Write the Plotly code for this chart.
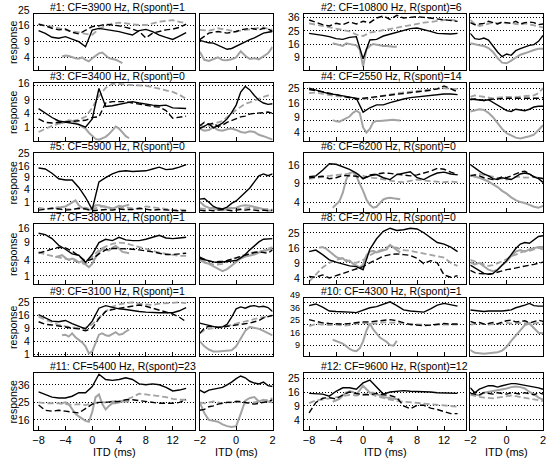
import plotly.graph_objects as go

# y values are on a square-root response axis (tick labels show the squares)
WIDE_X = list(range(-8, 15))
NARROW_X = [-2, -1.75, -1.5, -1.25, -1, -0.75, -0.5, -0.25, 0,
            0.25, 0.5, 0.75, 1, 1.25, 1.5, 1.75, 2]
WIDE_TICKS = [-8, -4, 0, 4, 8, 12]
NARROW_TICKS = [-2, 0, 2]

TITLES = [
    "#1: CF=3900 Hz, R(spont)=1", "#2: CF=10800 Hz, R(spont)=6",
    "#3: CF=3400 Hz, R(spont)=0", "#4: CF=2550 Hz, R(spont)=14",
    "#5: CF=5900 Hz, R(spont)=0", "#6: CF=6200 Hz, R(spont)=0",
    "#7: CF=3800 Hz, R(spont)=1", "#8: CF=2700 Hz, R(spont)=0",
    "#9: CF=3100 Hz, R(spont)=1", "#10: CF=4300 Hz, R(spont)=1",
    "#11: CF=5400 Hz, R(spont)=23", "#12: CF=9600 Hz, R(spont)=12",
]

# ---- panel 1
P1_YRANGE = [1.22, 4.68]
P1_GRID = [4, 3, 2]
P1_TICK_TEXT = ["25", "16", "9", "4"]
P1_TICK_POS = [4.93, 4, 3, 2]
P1_W_BLACK = [3.65, 3.48, 3.24, 3.18, 3.28, 3.11, 2.97, 2.66, 3.69, 3.79, 3.73, 3.65, 3.59, 3.48, 3.38, 3.65, 3.73, 3.59, 3.38, 3.24, 3.11, 3.32, 3.53]
P1_W_DASH = [4.05, 3.95, 3.8, 3.7, 3.75, 3.55, 3.45, 3.7, 3.9, 3.95, 4.05, 4.0, 3.95, 3.85, 3.75, 3.6, 3.2, 3.5, 3.6, 3.7, 3.75, 3.85, 4.05]
P1_W_GRAY_DASH = [4.05, 3.95, 3.9, 3.8, 3.7, 3.6, 3.55, 3.45, 3.4, 3.75, 3.95, 4.1, 4.15, 4.1, 4.05, 4.0, 4.0, 4.1, 4.2, 4.25, 4.3, 4.2, 4.1]
P1_W_GRAY_X0 = -4.5
P1_W_GRAY = [2.05, 2.12, 2.08, 2.0, 1.95, 1.92, 2.0, 1.85, 1.75, 1.95, 2.1, 2.25, 2.3, 2.1, 1.95, 1.9, 1.85, 1.75, 1.65]
P1_N_BLACK = [3.05, 2.97, 2.9, 2.88, 2.75, 2.6, 2.5, 2.55, 2.7, 2.85, 3.0, 3.1, 3.2, 3.35, 3.5, 3.55, 3.6]
P1_N_DASH = [3.1, 3.3, 3.5, 3.55, 3.6, 3.55, 3.5, 3.55, 3.6, 3.7, 3.75, 3.8, 3.75, 3.7, 3.8, 3.75, 3.6]
P1_N_GRAY_DASH = [3.7, 3.68, 3.65, 3.72, 3.8, 3.75, 3.7, 3.65, 3.6, 3.65, 3.7, 3.75, 3.8, 3.82, 3.85, 3.78, 3.7]
P1_N_GRAY = [2.35, 1.85, 1.78, 1.9, 2.0, 1.83, 1.82, 1.88, 2.0, 2.38, 2.1, 1.9, 1.95, 1.88, 2.05, 2.25, 2.65]

# ---- panel 2
P2_YRANGE = [2.05, 6.25]
P2_GRID = [6, 5, 4, 3]
P2_TICK_TEXT = ["36", "25", "16", "9"]
P2_TICK_POS = [6, 5, 4, 3]
P2_W_BLACK = [4.8, 4.75, 4.65, 4.55, 4.4, 4.35, 4.5, 4.55, 2.9, 4.3, 4.35, 4.6, 4.75, 4.9, 5.05, 5.15, 5.2, 5.1, 4.95, 4.8, 4.75, 4.75, 4.8]
P2_W_DASH = [5.8, 5.6, 5.45, 5.35, 5.55, 5.45, 5.65, 5.5, 5.7, 5.6, 5.95, 6.1, 5.85, 6.15, 5.95, 6.0, 6.05, 6.0, 5.95, 5.9, 5.85, 5.75, 5.7]
P2_W_GRAY_DASH = [5.55, 5.45, 5.35, 5.3, 5.2, 5.05, 4.95, 4.7, 4.6, 4.85, 4.95, 5.0, 5.1, 5.25, 5.35, 5.45, 5.55, 5.6, 5.65, 5.75, 5.8, 5.8, 5.75]
P2_W_GRAY_X0 = -4.5
P2_W_GRAY = [4.05, 4.0, 3.9, 3.85, 4.05, 4.0, 3.95, 3.9, 3.6, 2.3, 3.6, 3.85, 4.0, 3.95, 3.85, 3.85, 3.85, 3.8, 3.8, 3.8]
P2_N_BLACK = [4.8, 4.4, 4.35, 4.45, 4.3, 3.85, 3.4, 3.05, 3.25, 3.15, 3.5, 3.65, 3.8, 3.9, 3.95, 4.2, 4.65]
P2_N_DASH = [5.6, 5.45, 5.5, 5.55, 5.7, 5.6, 5.5, 5.65, 5.6, 5.55, 5.7, 5.5, 5.6, 5.65, 5.6, 5.45, 5.5]
P2_N_GRAY_DASH = [5.8, 5.5, 5.35, 5.45, 5.55, 5.6, 5.55, 5.6, 5.55, 5.6, 5.5, 5.45, 5.55, 5.5, 5.4, 5.3, 5.25]
P2_N_GRAY = [4.05, 3.95, 3.9, 3.85, 3.7, 3.4, 2.95, 2.6, 2.55, 2.75, 3.0, 3.2, 3.3, 3.45, 3.55, 3.65, 3.65]

# ---- panel 3
P3_YRANGE = [0, 4.2]
P3_GRID = [4, 3, 2, 1]
P3_TICK_TEXT = ["16", "9", "4", "1"]
P3_TICK_POS = [4.2, 3, 2, 1]
P3_W_BLACK = [2.35, 2.0, 1.7, 1.45, 1.35, 1.25, 1.2, 1.0, 1.6, 3.8, 2.5, 2.55, 2.65, 2.75, 2.85, 2.75, 2.65, 2.6, 2.55, 2.6, 2.4, 2.35, 2.35]
P3_W_DASH = [1.6, 1.35, 1.3, 1.35, 1.4, 1.45, 1.45, 1.5, 1.7, 1.75, 2.75, 2.85, 2.85, 2.85, 2.75, 2.65, 2.6, 2.5, 2.45, 2.2, 1.65, 1.7, 1.8]
P3_W_GRAY_DASH = [0.65, 0.9, 1.1, 1.25, 1.35, 1.45, 1.55, 1.75, 2.4, 3.25, 3.85, 4.15, 4.15, 4.1, 4.05, 4.05, 4.0, 3.9, 3.8, 3.7, 3.55, 3.35, 3.05]
P3_W_GRAY_X0 = -5.5
P3_W_GRAY = [1.55, 1.45, 1.3, 1.4, 1.5, 1.45, 1.3, 1.2, 1.05, 0.9, 0.6, 0.35, 0.15, 0.1, 0.2, 0.3, 0.5, 0.8, 1.05, 0.9, 0.6, 0.35, 0.2]
P3_N_BLACK = [0.9, 1.05, 1.25, 0.95, 1.1, 1.3, 1.6, 2.05, 2.6, 3.55, 3.95, 3.7, 3.3, 2.95, 2.75, 2.65, 2.7]
P3_N_DASH = [1.1, 1.35, 1.2, 1.3, 1.05, 1.15, 1.35, 1.5, 1.65, 1.75, 1.8, 1.95, 2.0, 2.0, 2.05, 2.1, 2.0]
P3_N_GRAY_DASH = [1.15, 1.0, 1.1, 1.25, 1.35, 1.45, 1.75, 2.0, 2.25, 2.5, 2.7, 2.8, 2.95, 3.1, 3.2, 3.3, 3.25]
P3_N_GRAY = [0.9, 0.75, 0.8, 1.0, 0.8, 0.75, 0.85, 0.9, 0.8, 0.65, 0.6, 0.7, 0.65, 0.45, 0.35, 0.25, 0.1]

# ---- panel 4
P4_YRANGE = [1.37, 5.35]
P4_GRID = [5, 4.24, 3.5, 2.76, 2]
P4_TICK_TEXT = ["25", "16", "9", "4"]
P4_TICK_POS = [5, 4, 3, 2]
P4_W_BLACK = [5.0, 4.85, 4.7, 4.6, 4.55, 4.45, 4.35, 4.3, 3.35, 3.65, 3.85, 3.85, 4.0, 4.15, 4.25, 4.35, 4.4, 4.45, 4.55, 4.6, 4.6, 4.6, 4.55]
P4_W_DASH = [4.9, 4.85, 4.75, 4.65, 4.55, 4.45, 4.3, 4.25, 4.3, 4.35, 4.45, 4.5, 4.55, 4.6, 4.65, 4.7, 4.75, 4.8, 4.85, 4.95, 5.15, 4.95, 4.75]
P4_W_GRAY_DASH = [4.65, 4.7, 4.6, 4.5, 4.45, 4.4, 4.35, 4.3, 4.25, 4.3, 4.4, 4.5, 4.6, 4.65, 4.7, 4.75, 4.8, 4.85, 4.9, 4.95, 5.0, 4.95, 4.95]
P4_W_GRAY_X0 = -4.5
P4_W_GRAY = [2.8, 2.72, 2.7, 2.8, 2.9, 3.05, 3.3, 3.45, 3.3, 2.3, 1.95, 2.2, 2.65, 2.75, 2.75, 2.78, 2.8, 2.8, 2.82, 2.8, 2.78]
P4_N_BLACK = [4.25, 4.2, 4.2, 4.15, 4.2, 4.0, 3.85, 3.6, 3.45, 3.4, 3.55, 3.5, 3.45, 3.55, 3.7, 3.75, 3.75]
P4_N_DASH = [4.2, 4.25, 4.2, 4.15, 4.22, 4.25, 4.28, 4.3, 4.3, 4.3, 4.3, 4.28, 4.3, 4.32, 4.3, 4.3, 4.35]
P4_N_GRAY_DASH = [4.4, 4.5, 4.45, 4.4, 4.35, 4.3, 4.35, 4.4, 4.4, 4.4, 4.38, 4.42, 4.45, 4.45, 4.5, 4.65, 5.0]
P4_N_GRAY = [3.4, 3.5, 3.55, 3.5, 3.3, 3.0, 2.6, 2.2, 1.9, 1.75, 1.6, 1.55, 1.6, 1.7, 1.8, 2.1, 2.45]

# ---- panel 5
P5_YRANGE = [0.15, 4.95]
P5_GRID = [4, 3, 2, 1]
P5_TICK_TEXT = ["25", "16", "9", "4", "1"]
P5_TICK_POS = [4.95, 3.88, 3, 2, 1]
P5_W_BLACK = [3.73, 3.65, 3.3, 2.85, 2.75, 2.75, 2.15, 1.35, 0.35, 2.6, 2.95, 3.25, 3.45, 3.5, 3.45, 3.45, 3.5, 3.65, 3.8, 3.6, 3.65, 3.8, 4.0]
P5_W_DASH = [0.3, 0.35, 0.45, 0.4, 0.3, 0.35, 0.45, 0.4, 0.25, 0.3, 0.35, 0.3, 0.4, 0.35, 0.35, 0.45, 0.4, 0.3, 0.35, 0.3, 0.3, 0.25, 0.25]
P5_W_GRAY_DASH = [0.5, 0.4, 0.45, 0.55, 0.4, 0.35, 0.45, 0.5, 0.35, 0.55, 0.6, 0.45, 0.5, 0.55, 0.45, 0.4, 0.6, 0.55, 0.45, 0.4, 0.3, 0.35, 0.3]
P5_W_GRAY_X0 = -5.5
P5_W_GRAY = [0.5, 0.45, 0.55, 0.6, 0.75, 0.95, 1.1, 0.7, 0.5, 0.4, 0.3, 0.45, 0.7, 0.7, 0.65, 0.55, 0.5, 0.4, 0.55, 0.65, 0.6, 0.7, 0.75]
P5_N_BLACK = [1.2, 1.25, 0.95, 0.6, 0.45, 0.4, 0.55, 0.85, 1.05, 1.4, 1.7, 2.1, 2.6, 3.1, 3.25, 3.1, 3.25]
P5_N_DASH = [0.3, 0.25, 0.3, 0.25, 0.3, 0.35, 0.3, 0.25, 0.3, 0.35, 0.3, 0.35, 0.3, 0.25, 0.3, 0.25, 0.3]
P5_N_GRAY_DASH = [0.45, 0.4, 0.45, 0.5, 0.45, 0.4, 0.45, 0.5, 0.45, 0.4, 0.45, 0.5, 0.45, 0.4, 0.35, 0.4, 0.35]
P5_N_GRAY = [1.0, 0.65, 0.5, 0.45, 0.35, 0.3, 0.4, 0.45, 0.5, 0.65, 0.7, 0.65, 0.55, 0.5, 0.4, 0.3, 0.25]

# ---- panel 6
P6_YRANGE = [1.47, 4.62]
P6_GRID = [4, 3, 2]
P6_TICK_TEXT = ["16", "9", "4"]
P6_TICK_POS = [4, 3, 2]
P6_W_BLACK = [3.35, 3.4, 3.7, 4.05, 4.02, 3.9, 3.75, 3.55, 3.25, 3.4, 3.47, 3.3, 3.2, 3.47, 3.56, 3.62, 3.3, 3.2, 3.4, 3.55, 3.6, 3.5, 3.45]
P6_W_DASH = [3.29, 3.33, 3.38, 3.25, 3.3, 3.42, 3.4, 3.38, 3.25, 3.45, 3.5, 3.55, 3.53, 3.48, 3.42, 3.4, 3.45, 3.55, 3.65, 3.8, 3.75, 3.6, 3.47]
P6_W_GRAY_DASH = [3.24, 3.3, 3.36, 3.4, 3.44, 3.47, 3.52, 3.5, 3.4, 3.3, 3.28, 3.2, 3.12, 3.08, 3.06, 3.12, 3.2, 3.15, 3.12, 3.08, 3.06, 3.1, 3.06]
P6_W_GRAY_X0 = -4.5
P6_W_GRAY = [1.7, 1.88, 2.05, 2.5, 3.2, 3.55, 3.6, 3.38, 3.0, 2.6, 2.14, 1.85, 1.7, 1.75, 1.95, 2.14, 2.2, 2.23, 2.2, 2.18, 2.15]
P6_N_BLACK = [4.0, 3.8, 3.65, 3.5, 3.4, 3.25, 3.2, 3.3, 3.25, 3.2, 3.35, 3.5, 3.55, 3.5, 3.35, 3.25, 3.05]
P6_N_DASH = [3.4, 3.45, 3.4, 3.3, 3.25, 3.2, 3.25, 3.35, 3.3, 3.4, 3.5, 3.6, 3.65, 3.5, 3.35, 3.3, 3.25]
P6_N_GRAY_DASH = [3.4, 3.45, 3.5, 3.45, 3.4, 3.35, 3.3, 3.25, 3.2, 3.25, 3.35, 3.35, 3.3, 3.3, 3.35, 3.3, 3.25]
P6_N_GRAY = [3.45, 3.35, 3.3, 3.2, 3.1, 2.95, 2.8, 2.6, 2.45, 2.25, 2.1, 2.0, 1.95, 1.85, 1.75, 1.7, 1.8]

# ---- panel 7
P7_YRANGE = [0.38, 4.9]
P7_GRID = [4, 3.05, 2, 1]
P7_TICK_TEXT = ["16", "9", "4", "1"]
P7_TICK_POS = [4.6, 3.55, 2.18, 1]
P7_W_BLACK = [4.2, 4.1, 3.8, 3.3, 3.0, 2.65, 2.55, 2.0, 2.6, 3.5, 3.75, 3.65, 3.9, 3.7, 3.65, 3.65, 3.75, 3.9, 4.05, 3.85, 3.8, 3.85, 3.9]
P7_W_DASH = [2.7, 2.85, 3.0, 3.15, 3.1, 2.85, 2.5, 2.1, 2.25, 2.65, 2.95, 3.05, 3.05, 3.05, 3.0, 2.95, 2.9, 2.8, 2.7, 2.6, 2.6, 2.65, 2.7]
P7_W_GRAY_DASH = [2.8, 2.6, 2.5, 2.4, 2.3, 2.15, 2.05, 1.85, 2.4, 2.95, 3.2, 3.4, 3.5, 3.45, 3.3, 3.15, 3.0, 2.85, 2.75, 2.65, 2.55, 2.5, 2.5]
P7_W_GRAY_X0 = -5.5
P7_W_GRAY = [2.4, 2.5, 2.55, 2.35, 2.2, 2.3, 2.2, 2.0, 2.1, 1.85, 1.65, 1.9, 2.4, 2.75, 3.05, 2.95, 2.9, 3.1, 3.25, 3.05, 2.8, 2.75, 2.7]
P7_N_BLACK = [2.3, 2.2, 2.1, 2.05, 2.0, 2.05, 2.05, 2.1, 2.15, 2.35, 2.6, 2.95, 3.25, 3.55, 3.75, 3.8, 3.8]
P7_N_DASH = [2.4, 2.25, 2.1, 2.05, 2.05, 2.1, 2.15, 2.25, 2.35, 2.5, 2.6, 2.7, 2.75, 2.8, 2.75, 2.7, 2.95]
P7_N_GRAY_DASH = [2.2, 2.1, 1.95, 1.85, 1.85, 1.9, 2.05, 2.25, 2.35, 2.5, 2.6, 2.7, 2.75, 2.8, 2.9, 3.05, 3.15]
P7_N_GRAY = [2.2, 2.0, 1.9, 1.7, 1.5, 1.35, 1.5, 1.75, 2.05, 2.3, 2.45, 2.5, 2.6, 2.75, 2.85, 3.0, 3.05]

# ---- panel 8
P8_YRANGE = [1.6, 5.58]
P8_GRID = [5, 4, 3, 2]
P8_TICK_TEXT = ["25", "16", "9", "4"]
P8_TICK_POS = [5, 4, 3, 2]
P8_W_BLACK = [3.75, 3.85, 3.55, 3.2, 3.05, 2.9, 2.8, 2.75, 2.55, 3.9, 4.6, 5.1, 5.3, 5.15, 5.2, 5.3, 5.25, 5.0, 4.65, 4.35, 4.25, 4.05, 3.75]
P8_W_DASH = [2.1, 2.05, 2.2, 2.0, 2.15, 2.3, 2.5, 2.6, 2.75, 3.0, 3.25, 3.45, 3.55, 3.6, 3.55, 3.5, 3.3, 2.95, 3.15, 3.0, 2.2, 2.05, 2.15]
P8_W_GRAY_DASH = [1.75, 2.25, 2.7, 3.0, 3.2, 3.3, 3.1, 3.0, 3.2, 3.5, 3.75, 3.9, 4.15, 4.0, 3.85, 3.8, 3.7, 3.6, 3.5, 3.4, 3.35, 3.0, 2.8]
P8_W_GRAY_X0 = -6.5
P8_W_GRAY = [4.0, 4.05, 3.95, 3.75, 3.6, 3.4, 3.3, 3.3, 3.1, 3.15, 2.95, 2.85, 2.7, 2.9, 3.5, 3.75, 3.8, 3.7, 3.75, 3.85, 3.9, 4.2, 4.0, 3.85, 3.7]
P8_N_BLACK = [2.85, 2.65, 2.45, 2.3, 2.25, 2.3, 2.55, 2.85, 3.15, 3.55, 3.95, 4.25, 4.35, 4.3, 4.5, 4.75, 4.8]
P8_N_DASH = [2.5, 2.35, 2.3, 2.25, 2.25, 2.3, 2.4, 2.5, 2.55, 2.6, 2.65, 2.7, 2.8, 2.85, 2.9, 3.0, 3.05]
P8_N_GRAY_DASH = [3.2, 3.1, 3.0, 2.9, 2.8, 2.85, 2.95, 3.1, 3.25, 3.45, 3.55, 3.7, 3.8, 3.8, 3.9, 4.0, 3.9]
P8_N_GRAY = [3.05, 2.9, 3.0, 2.75, 2.55, 2.45, 2.55, 2.85, 3.1, 3.45, 3.75, 3.85, 3.75, 3.9, 4.0, 4.05, 4.05]

# ---- panel 9
P9_YRANGE = [0.85, 5.34]
P9_GRID = [5, 4, 3, 2, 1]
P9_TICK_TEXT = ["25", "16", "9", "4", "1"]
P9_TICK_POS = [5, 4, 3, 2, 1]
P9_W_BLACK = [4.05, 3.8, 3.55, 3.5, 3.6, 3.35, 3.15, 2.95, 3.55, 4.55, 4.75, 4.6, 4.5, 4.45, 4.35, 4.3, 4.25, 4.2, 4.2, 4.2, 4.2, 4.35, 4.6]
P9_W_DASH = [3.5, 3.3, 3.25, 3.2, 3.1, 3.0, 2.95, 2.8, 3.0, 3.75, 4.3, 4.45, 4.55, 4.65, 4.75, 4.8, 4.7, 4.55, 4.35, 4.2, 4.1, 3.85, 3.5]
P9_W_GRAY_DASH = [3.9, 3.65, 3.5, 3.25, 3.15, 3.1, 3.0, 3.05, 3.3, 3.8, 4.3, 4.65, 4.85, 4.95, 5.0, 4.9, 4.85, 4.8, 4.9, 4.95, 5.0, 5.0, 4.95]
P9_W_GRAY_X0 = -4.5
P9_W_GRAY = [2.45, 2.5, 2.35, 2.6, 2.3, 2.1, 1.9, 1.6, 1.05, 1.2, 1.9, 2.5, 2.6, 2.45, 2.4, 2.55, 2.7, 2.5, 2.55, 2.75, 2.9]
P9_N_BLACK = [3.4, 3.3, 3.2, 3.1, 3.05, 3.1, 3.3, 3.85, 4.5, 4.65, 4.55, 4.7, 4.75, 4.65, 4.7, 4.6, 4.3]
P9_N_DASH = [2.6, 3.0, 3.15, 3.1, 3.05, 3.05, 3.15, 3.2, 3.25, 3.25, 3.35, 3.4, 3.5, 3.6, 3.8, 3.9, 4.0]
P9_N_GRAY_DASH = [2.6, 2.85, 2.95, 3.0, 3.05, 3.1, 3.15, 3.25, 3.35, 3.45, 3.55, 3.65, 3.7, 3.8, 3.85, 3.9, 4.0]
P9_N_GRAY = [2.0, 1.6, 1.35, 1.2, 1.2, 1.25, 1.25, 1.3, 1.6, 2.2, 2.8, 3.1, 3.05, 2.95, 2.8, 2.65, 2.45]

# ---- panel 10
P10_YRANGE = [2.05, 7.4]
P10_GRID = [7, 6, 5, 4, 3]
P10_TICK_TEXT = ["49", "36", "25", "16", "9"]
P10_TICK_POS = [7.65, 6.5, 5.35, 4.2, 3.05]
P10_TICK_SIZE = 9
P10_W_BLACK = [6.7, 6.85, 6.55, 6.2, 6.15, 6.15, 6.1, 6.05, 6.3, 6.5, 6.6, 6.85, 7.05, 6.7, 6.3, 6.2, 6.15, 6.1, 6.4, 6.75, 6.9, 6.8, 6.65]
P10_W_DASH = [5.4, 5.25, 5.1, 5.05, 5.0, 5.0, 5.05, 5.15, 5.2, 5.2, 5.25, 5.35, 5.4, 5.3, 5.15, 4.95, 4.9, 4.85, 4.9, 4.95, 5.05, 5.0, 5.0]
P10_W_GRAY_DASH = [4.8, 5.0, 4.95, 4.9, 4.95, 4.85, 4.9, 5.05, 5.1, 5.1, 5.05, 5.15, 5.15, 5.15, 5.1, 5.0, 4.95, 4.9, 4.9, 4.95, 4.95, 4.95, 4.95]
P10_W_GRAY_X0 = -4.5
P10_W_GRAY = [3.55, 3.45, 3.35, 3.2, 2.95, 2.7, 2.55, 2.5, 2.75, 3.4, 4.4, 5.05, 4.5, 4.15, 3.75, 3.55, 3.35, 3.05, 3.0, 3.45]
P10_N_BLACK = [6.3, 6.25, 6.2, 6.15, 6.2, 6.2, 6.15, 6.2, 6.25, 6.3, 6.5, 6.6, 6.75, 6.9, 6.7, 6.65, 6.65]
P10_N_DASH = [5.25, 5.1, 5.15, 5.0, 5.05, 5.15, 5.0, 5.2, 5.3, 5.35, 5.2, 5.25, 5.3, 5.1, 5.2, 5.35, 5.25]
P10_N_GRAY_DASH = [4.95, 5.0, 5.05, 5.0, 4.95, 5.0, 5.05, 5.05, 5.1, 5.05, 5.1, 5.1, 5.05, 5.1, 5.05, 5.1, 5.05]
P10_N_GRAY = [2.6, 2.35, 2.3, 2.25, 2.3, 2.35, 2.4, 2.55, 2.9, 3.45, 3.95, 4.45, 4.9, 5.05, 4.6, 4.2, 4.15]

# ---- panel 11
P11_YRANGE = [3.43, 6.67]
P11_GRID = [6, 5, 4]
P11_TICK_TEXT = ["36", "25", "16"]
P11_TICK_POS = [6, 5, 4]
P11_W_BLACK = [5.6, 5.45, 5.3, 5.25, 5.25, 5.35, 5.55, 5.55, 5.9, 6.6, 6.3, 6.25, 6.3, 6.4, 6.3, 6.05, 6.0, 6.05, 6.0, 5.85, 5.65, 5.7, 5.8]
P11_W_DASH = [4.85, 4.55, 4.5, 4.55, 4.5, 4.45, 4.4, 4.65, 4.9, 5.0, 5.0, 5.05, 5.05, 5.15, 5.15, 5.1, 5.05, 5.0, 4.95, 4.95, 4.95, 5.0, 5.15]
P11_W_GRAY_DASH = [5.0, 4.95, 4.95, 4.95, 4.9, 4.85, 4.9, 4.85, 4.95, 5.0, 5.0, 5.05, 5.05, 5.15, 5.3, 5.5, 5.45, 5.4, 5.35, 5.3, 5.2, 5.15, 5.15]
P11_W_GRAY_X0 = -4.5
P11_W_GRAY = [4.95, 5.0, 4.9, 4.6, 4.35, 4.2, 4.05, 3.95, 3.9, 4.45, 5.3, 5.45, 4.9, 4.6, 4.8, 4.95, 4.95, 5.0, 5.05, 5.05, 5.05]
P11_N_BLACK = [5.7, 5.55, 5.7, 5.75, 5.8, 5.85, 6.0, 6.15, 6.35, 6.5, 6.4, 6.2, 6.1, 6.05, 6.15, 5.95, 5.9]
P11_N_DASH = [4.55, 4.6, 4.75, 4.8, 4.9, 4.95, 5.0, 5.0, 5.05, 5.05, 5.0, 4.95, 4.9, 4.95, 5.0, 5.05, 5.15]
P11_N_GRAY_DASH = [5.0, 4.95, 5.0, 5.05, 5.0, 4.95, 5.0, 5.0, 5.05, 5.0, 4.95, 5.0, 5.0, 5.05, 5.1, 5.15, 5.25]
P11_N_GRAY = [5.0, 4.4, 4.0, 3.95, 3.9, 3.75, 3.65, 3.6, 3.65, 4.35, 5.1, 5.25, 5.3, 5.05, 5.15, 5.05, 5.0]

# ---- panel 12
P12_YRANGE = [1.28, 5.36]
P12_GRID = [5, 4, 3, 2]
P12_TICK_TEXT = ["25", "16", "9", "4"]
P12_TICK_POS = [5, 4, 3, 2]
P12_W_BLACK = [3.9, 3.9, 3.85, 3.7, 4.05, 4.3, 4.3, 4.2, 4.65, 4.85, 4.35, 3.85, 4.0, 4.05, 4.1, 4.05, 4.05, 4.05, 4.0, 3.95, 3.95, 3.9, 3.9]
P12_W_DASH = [2.5, 3.25, 3.55, 3.6, 3.5, 3.8, 4.0, 3.9, 3.8, 3.8, 3.9, 3.8, 3.75, 3.6, 3.0, 2.8, 3.05, 3.05, 2.85, 2.75, 2.6, 2.45, 2.45]
P12_W_GRAY_DASH = [3.2, 3.4, 3.45, 3.55, 3.65, 3.75, 3.8, 3.75, 3.85, 3.9, 3.7, 3.55, 3.45, 3.35, 3.3, 3.25, 3.25, 3.2, 3.15, 3.1, 3.05, 3.0, 2.95]
P12_W_GRAY_X0 = -4.5
P12_W_GRAY = [3.3, 3.4, 3.5, 3.75, 3.95, 4.05, 4.0, 3.8, 4.1, 4.45, 4.2, 3.95, 3.95, 3.85, 3.7, 3.65, 3.6, 3.55, 3.5, 3.45, 3.45]
P12_N_BLACK = [4.3, 3.95, 4.2, 4.3, 4.45, 4.45, 4.35, 4.45, 4.55, 4.6, 4.6, 4.55, 4.45, 4.4, 4.35, 4.3, 4.2]
P12_N_DASH = [3.9, 3.85, 3.8, 3.95, 3.9, 3.85, 3.95, 3.9, 3.85, 3.95, 3.9, 3.85, 3.95, 3.85, 3.8, 3.95, 3.85]
P12_N_GRAY_DASH = [3.8, 3.7, 3.65, 3.6, 3.55, 3.55, 3.6, 3.65, 3.7, 3.75, 3.7, 3.65, 3.6, 3.55, 3.5, 3.4, 3.35]
P12_N_GRAY = [3.9, 3.8, 3.75, 3.95, 4.0, 4.05, 4.1, 4.15, 4.25, 4.35, 4.4, 4.35, 4.25, 4.0, 3.85, 3.6, 3.45]

FS = 10.5


def panel(n):
    g = globals()
    keys = ["YRANGE", "GRID", "TICK_TEXT", "TICK_POS", "W_BLACK", "W_DASH",
            "W_GRAY_DASH", "W_GRAY_X0", "W_GRAY", "N_BLACK", "N_DASH",
            "N_GRAY_DASH", "N_GRAY"]
    p = {k: g[f"P{n}_{k}"] for k in keys}
    p["TICK_SIZE"] = g.get(f"P{n}_TICK_SIZE", FS)
    return p


PANELS = [panel(n) for n in range(1, 13)]

# layout in pixels of the 549x458 page
W, H = 549, 458
ROW_PX = [(14, 70), (83, 141), (153, 212), (224, 284), (298, 356), (373, 430)]
COL_PX = [((28, 192), (197, 271)), ((303, 468), (472, 546))]
WIDE_RANGE = [-8.75, 15.3]
NARROW_RANGE = [-2, 2]
FONT = "Liberation Sans, Arial, sans-serif"
BLACK = "#000000"
GRAY = "#a3a3a3"
DASH = "6px,3px"

fig = go.Figure()
layout = {}
annotations = []


def line(x, y, xa, ya, color, dash, width):
    fig.add_trace(go.Scatter(
        x=x, y=y, mode="lines", xaxis=xa, yaxis=ya,
        line=dict(color=color, dash=dash, width=width),
        showlegend=False, hoverinfo="skip"))


for i, p in enumerate(PANELS):
    row, col = divmod(i, 2)
    top, bot = ROW_PX[row]
    ydom = [1 - bot / H, 1 - top / H]
    lo, hi = p["YRANGE"]
    wide_px, narrow_px = COL_PX[col]
    bottom_row = row == len(ROW_PX) - 1

    for j, (xpx, xr, ticks) in enumerate([(wide_px, WIDE_RANGE, WIDE_TICKS),
                                          (narrow_px, NARROW_RANGE, NARROW_TICKS)]):
        n = 2 * i + j + 1
        xa = "x" if n == 1 else f"x{n}"
        ya = "y" if n == 1 else f"y{n}"
        layout["xaxis" if n == 1 else f"xaxis{n}"] = dict(
            domain=[xpx[0] / W, xpx[1] / W], range=xr, anchor=ya,
            showline=True, mirror=True, linecolor=BLACK, linewidth=1,
            ticks="inside", ticklen=4, tickcolor=BLACK, tickvals=ticks,
            showticklabels=bottom_row, showgrid=False, zeroline=False,
            tickfont=dict(family=FONT, size=FS + 0.5, color=BLACK))
        layout["yaxis" if n == 1 else f"yaxis{n}"] = dict(
            domain=ydom, range=[lo, hi], anchor=xa,
            showline=True, mirror=True, linecolor=BLACK, linewidth=1,
            ticks="", tickvals=p["GRID"], showticklabels=False,
            showgrid=True, gridcolor=BLACK, gridwidth=1, griddash="1px,2px",
            zeroline=False)

        if j == 0:
            gx = [p["W_GRAY_X0"] + 0.5 * k for k in range(len(p["W_GRAY"]))]
            line(gx, p["W_GRAY"], xa, ya, GRAY, "solid", 2)
            line(WIDE_X, p["W_GRAY_DASH"], xa, ya, GRAY, DASH, 1.8)
            line(WIDE_X, p["W_DASH"], xa, ya, BLACK, DASH, 1.4)
            line(WIDE_X, p["W_BLACK"], xa, ya, BLACK, "solid", 1.4)
            for txt, pos in zip(p["TICK_TEXT"], p["TICK_POS"]):
                annotations.append(dict(
                    text=txt, xref="paper", x=(xpx[0] - 3) / W, xanchor="right",
                    yref=f"{ya} domain", y=(pos - lo) / (hi - lo), yanchor="middle",
                    showarrow=False, borderpad=0,
                    font=dict(family=FONT, size=p["TICK_SIZE"], color=BLACK)))
        else:
            line(NARROW_X, p["N_GRAY"], xa, ya, GRAY, "solid", 2)
            line(NARROW_X, p["N_GRAY_DASH"], xa, ya, GRAY, DASH, 1.8)
            line(NARROW_X, p["N_DASH"], xa, ya, BLACK, DASH, 1.4)
            line(NARROW_X, p["N_BLACK"], xa, ya, BLACK, "solid", 1.4)

        if bottom_row:
            annotations.append(dict(
                text="ITD (ms)", xref="paper", x=(xpx[0] + xpx[1]) / 2 / W,
                yref="paper", y=1 - 452 / H, xanchor="center", yanchor="middle",
                showarrow=False, font=dict(family=FONT, size=FS + 0.5, color=BLACK)))

    annotations.append(dict(
        text=TITLES[i], xref="paper", x=(wide_px[0] + 15) / W,
        yref="paper", y=1 - (top - 7) / H, xanchor="left", yanchor="middle",
        showarrow=False, font=dict(family=FONT, size=FS, color=BLACK)))
    if col == 0:
        annotations.append(dict(
            text="response", xref="paper", x=7 / W, yref="paper",
            y=1 - (top + bot) / 2 / H, textangle=-90, xanchor="center",
            yanchor="middle", showarrow=False,
            font=dict(family=FONT, size=FS, color=BLACK)))

fig.update_layout(
    width=W, height=H,
    margin=dict(l=0, r=0, t=0, b=0),
    paper_bgcolor="white", plot_bgcolor="white",
    showlegend=False,
    annotations=annotations,
    **layout)

# the page body has a default margin; remove it so the figure sits at (0, 0)
fig.write_html("out.html",
               config={"displayModeBar": False},
               post_script="document.body.style.margin='0';"
                           "document.body.style.overflow='hidden';")
